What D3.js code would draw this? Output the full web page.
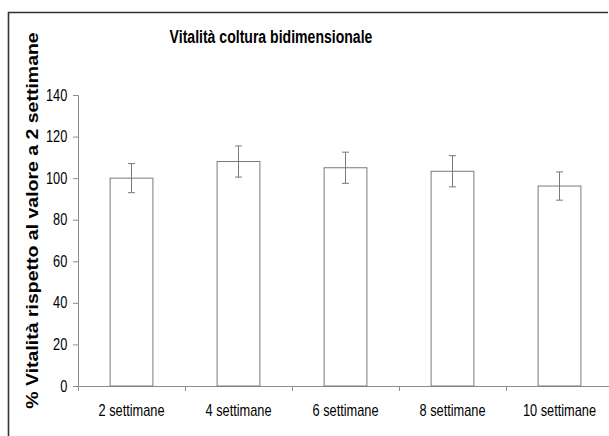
<!DOCTYPE html>
<html>
<head>
<meta charset="utf-8">
<script src="https://cdn.jsdelivr.net/npm/d3@7"></script>
<style>
  html, body { margin: 0; background: #fff; overflow: hidden; }
  svg { display: block; }
  text { font-family: "Liberation Sans", Arial, sans-serif; fill: #000; }
</style>
</head>
<body>
<svg id="chart"></svg>
<script>
// Vitalità coltura bidimensionale - bar chart with error bars

const categories = ["2 settimane", "4 settimane", "6 settimane", "8 settimane", "10 settimane"];
const vitalita = [100, 108, 105, 103.3, 96.2];
const errori = [7, 7.5, 7.5, 7.5, 6.8];
const yTicks = [0, 20, 40, 60, 80, 100, 120, 140];

const W = 609, H = 436;
const margin = { top: 95, right: -4, bottom: 50, left: 78 };
const width = W - margin.left - margin.right;
const height = H - margin.top - margin.bottom;
const sx = 0.8; // the picture is squeezed horizontally

const svg = d3.select("#chart")
    .attr("width", W)
    .attr("height", H);

// outer frame: only top and left sides are inside the picture
svg.append("path")
    .attr("d", `M${W - 1},12.5H8.5V${H}`)
    .attr("fill", "none")
    .attr("stroke", "#333")
    .attr("stroke-width", 1.6);

const g = svg.append("g")
    .attr("transform", `translate(${margin.left},${margin.top})`);

const x = d3.scaleBand()
    .domain(categories)
    .range([0, width])
    .paddingInner(0.6)
    .paddingOuter(0.3);

const y = d3.scaleLinear()
    .domain([0, 140])
    .range([height, 0]);

// y axis
const yAxis = g.append("g")
    .call(d3.axisLeft(y).tickValues(yTicks).tickSize(5).tickPadding(8.4));
yAxis.selectAll("path, line").attr("stroke", "#8c8c8c");
yAxis.selectAll("text")
    .attr("font-size", 16)
    .attr("transform", `scale(${sx},1)`);

// x axis: labels at centres, ticks at category boundaries
const xAxis = g.append("g")
    .attr("transform", `translate(0,${height})`)
    .call(d3.axisBottom(x).tickSize(0).tickPadding(19));
xAxis.select(".domain").remove();
xAxis.selectAll("line").remove();
xAxis.selectAll("text")
    .attr("font-size", 16)
    .attr("transform", `scale(${sx},1)`);

g.append("line")
    .attr("x1", 0)
    .attr("x2", W - margin.left)
    .attr("y1", height + 0.5)
    .attr("y2", height + 0.5)
    .attr("stroke", "#8c8c8c");

const bounds = categories.map(c => x(c) - x.step() * x.paddingInner() / 2);
bounds[0] = 0;
g.selectAll(".xtick")
    .data(bounds)
    .join("line")
    .attr("class", "xtick")
    .attr("x1", d => d + 0.5)
    .attr("x2", d => d + 0.5)
    .attr("y1", height)
    .attr("y2", height + 5)
    .attr("stroke", "#8c8c8c");

// bars
g.selectAll(".bar")
    .data(categories)
    .join("rect")
    .attr("class", "bar")
    .attr("x", d => x(d))
    .attr("y", (d, i) => y(vitalita[i]))
    .attr("width", x.bandwidth())
    .attr("height", (d, i) => height - y(vitalita[i]))
    .attr("fill", "#fff")
    .attr("stroke", "#7a7a7a")
    .attr("stroke-width", 1);

// error bars
const err = g.selectAll(".err")
    .data(categories)
    .join("g")
    .attr("class", "err")
    .attr("stroke", "#7a7a7a");
err.append("line")
    .attr("x1", d => x(d) + x.bandwidth() / 2)
    .attr("x2", d => x(d) + x.bandwidth() / 2)
    .attr("y1", (d, i) => y(vitalita[i] + errori[i]))
    .attr("y2", (d, i) => y(vitalita[i] - errori[i]));
err.append("line")
    .attr("x1", d => x(d) + x.bandwidth() / 2 - 3.5)
    .attr("x2", d => x(d) + x.bandwidth() / 2 + 3.5)
    .attr("y1", (d, i) => y(vitalita[i] + errori[i]))
    .attr("y2", (d, i) => y(vitalita[i] + errori[i]));
err.append("line")
    .attr("x1", d => x(d) + x.bandwidth() / 2 - 3.5)
    .attr("x2", d => x(d) + x.bandwidth() / 2 + 3.5)
    .attr("y1", (d, i) => y(vitalita[i] - errori[i]))
    .attr("y2", (d, i) => y(vitalita[i] - errori[i]));

// title
svg.append("g")
    .attr("transform", "translate(271,42.5) scale(0.76,1)")
    .append("text")
    .attr("text-anchor", "middle")
    .attr("font-size", 18.5)
    .attr("font-weight", "bold")
    .text("Vitalità coltura bidimensionale");

// y label
svg.append("g")
    .attr("transform", `translate(37.5,220.5) scale(${sx},1) rotate(-90)`)
    .append("text")
    .attr("text-anchor", "middle")
    .attr("font-size", 19.5)
    .attr("font-weight", "bold")
    .text("% Vitalità rispetto al valore a 2 settimane");
</script>
</body>
</html>
